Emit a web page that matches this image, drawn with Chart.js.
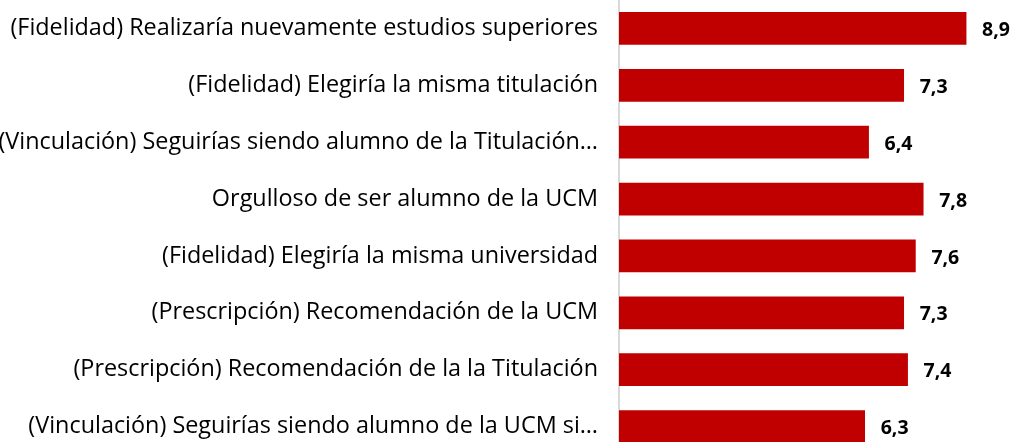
<!DOCTYPE html>
<html>
<head>
<meta charset="utf-8">
<script src="https://cdn.jsdelivr.net/npm/chart.js@4"></script>
<style>
  html, body { margin: 0; padding: 0; background: #fff; overflow: hidden; }
  #wrap { width: 1014px; height: 455px; }
</style>
</head>
<body>
<div id="wrap"><canvas id="grafico" width="1014" height="455"></canvas></div>
<script>
// categorías (de arriba a abajo)
const categorias = [
    '(Fidelidad) Realizaría nuevamente estudios superiores',
    '(Fidelidad) Elegiría la misma titulación',
    '(Vinculación) Seguirías siendo alumno de la Titulación…',
    'Orgulloso de ser alumno de la UCM',
    '(Fidelidad) Elegiría la misma universidad',
    '(Prescripción) Recomendación de la UCM',
    '(Prescripción) Recomendación de la la Titulación',
    '(Vinculación) Seguirías siendo alumno de la UCM si…'
];

const valores = [8.9, 7.3, 6.4, 7.8, 7.6, 7.3, 7.4, 6.3];

const escalaMin = 0;
const escalaMax = 10;

// etiquetas de valor al final de cada barra
const etiquetasValor = {
    id: 'etiquetasValor',
    afterDatasetsDraw(chart) {
        const ctx = chart.ctx;
        const meta = chart.getDatasetMeta(0);
        ctx.save();
        ctx.font = 'bold 19.5px "Open Sans"';
        ctx.fillStyle = '#000';
        ctx.textAlign = 'left';
        ctx.textBaseline = 'middle';
        meta.data.forEach(function (barra, i) {
            const texto = valores[i].toFixed(1).replace('.', ',');
            ctx.fillText(texto, barra.x + 16, barra.y + 2);
        });
        ctx.restore();
    }
};

const data = {
    labels: categorias,
    datasets: [{
        data: valores,
        backgroundColor: '#C00000',
        borderWidth: 0,
        barThickness: 32
    }]
};

const config = {
    type: 'bar',
    data: data,
    plugins: [etiquetasValor],
    options: {
        indexAxis: 'y',
        responsive: false,
        animation: false,
        devicePixelRatio: 1,
        layout: {
            padding: { top: 0, bottom: 0, left: 0, right: 5 }
        },
        plugins: {
            legend: { display: false },
            tooltip: { enabled: false }
        },
        scales: {
            x: {
                display: false,
                min: escalaMin,
                max: escalaMax
            },
            y: {
                grid: { display: false, drawTicks: false },
                border: { display: true, color: '#D9D9D9', width: 2 },
                afterFit: function (scale) {
                    scale.width = 619;
                    scale.paddingTop = 0;
                    scale.paddingBottom = 0;
                },
                ticks: {
                    color: '#000',
                    padding: 21,
                    autoSkip: false,
                    font: {
                        size: 23.4,
                        family: 'Open Sans'
                    }
                }
            }
        }
    }
};

const grafico = new Chart(document.getElementById('grafico'), config);
</script>
</body>
</html>
